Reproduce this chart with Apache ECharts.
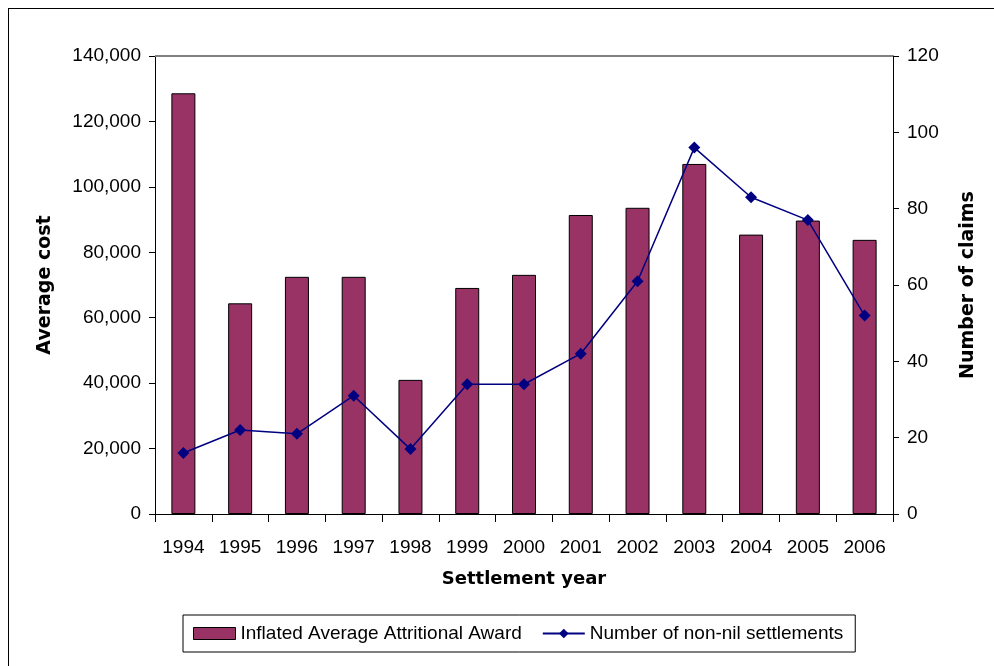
<!DOCTYPE html>
<html>
<head>
<meta charset="utf-8">
<script src="https://cdn.jsdelivr.net/npm/echarts@6/dist/echarts.min.js"></script>
<style>
html,body{margin:0;padding:0;background:#fff;overflow:hidden;}
#frame{position:absolute;left:8px;top:8px;width:1000px;height:700px;border:1px solid #000;box-sizing:border-box;}
#chart{position:absolute;left:0;top:0;width:994px;height:666px;}
</style>
</head>
<body>
<div id="frame"></div>
<div id="chart"></div>
<script>
var years = ['1994','1995','1996','1997','1998','1999','2000','2001','2002','2003','2004','2005','2006'];
var averageAward = [128600, 64400, 72500, 72500, 41000, 69100, 73100, 91400, 93600, 107000, 85400, 89700, 83800];
var settlements = [16, 22, 21, 31, 17, 34, 34, 42, 61, 96, 83, 77, 52];
var leftTicks = {min: 0, max: 140000, interval: 20000};
var rightTicks = {min: 0, max: 120, interval: 20};

var font = '"Liberation Sans", Arial, sans-serif';
var titleFont = '"DejaVu Sans", "Liberation Sans", sans-serif';
var chart = echarts.init(document.getElementById('chart'));
chart.setOption({
  animation: false,
  textStyle: {fontFamily: font},
  grid: {left: 155, right: 101, top: 56, bottom: 152},
  legend: {
    bottom: 14, left: 183,
    borderColor: '#000', borderWidth: 1, padding: [9, 12, 9, 10],
    itemGap: 20, itemWidth: 42, itemHeight: 12,
    textStyle: {fontFamily: font, fontSize: 19, color: '#000'},
    data: [
      {name: 'Inflated Average Attritional Award', icon: 'rect', itemStyle: {borderColor: '#000', borderWidth: 1}},
      {name: 'Number of non-nil settlements'}
    ]
  },
  xAxis: {
    type: 'category', data: years,
    name: 'Settlement year', nameLocation: 'middle', nameGap: 56,
    nameTextStyle: {fontSize: 18, fontWeight: 'bold', color: '#000', fontFamily: titleFont},
    axisLine: {lineStyle: {color: '#000'}},
    axisTick: {show: true, alignWithLabel: false, length: 8, lineStyle: {color: '#000'}},
    axisLabel: {fontSize: 19, color: '#000', margin: 24, interval: 0, fontFamily: font},
    splitLine: {show: false}
  },
  yAxis: [
    {
      type: 'value', min: leftTicks.min, max: leftTicks.max, interval: leftTicks.interval,
      name: 'Average cost', nameLocation: 'middle', nameGap: 100, nameRotate: 90,
      nameTextStyle: {fontSize: 19, fontWeight: 'bold', color: '#000', fontFamily: titleFont},
      axisLine: {show: true, lineStyle: {color: '#000'}},
      axisTick: {show: true, length: 6, lineStyle: {color: '#000'}},
      axisLabel: {fontSize: 19, color: '#000', margin: 14, fontFamily: font,
        formatter: function (v) { return v.toString().replace(/\B(?=(\d{3})+(?!\d))/g, ','); }},
      splitLine: {show: false}
    },
    {
      type: 'value', min: rightTicks.min, max: rightTicks.max, interval: rightTicks.interval,
      name: 'Number of claims', nameLocation: 'middle', nameGap: 66, nameRotate: 90,
      nameTextStyle: {fontSize: 19, fontWeight: 'bold', color: '#000', fontFamily: titleFont},
      axisLine: {show: true, lineStyle: {color: '#000'}},
      axisTick: {show: true, length: 6, lineStyle: {color: '#000'}},
      axisLabel: {fontSize: 19, color: '#000', margin: 14, fontFamily: font},
      splitLine: {show: false}
    }
  ],
  series: [
    {
      name: 'Inflated Average Attritional Award', type: 'bar', yAxisIndex: 0,
      data: averageAward, barWidth: 24,
      itemStyle: {color: '#993366', borderColor: '#000', borderWidth: 1},
      markLine: {
        silent: true, symbol: 'none', label: {show: false},
        lineStyle: {color: '#808080', type: 'solid', width: 2},
        data: [{yAxis: leftTicks.max}]
      }
    },
    {
      name: 'Number of non-nil settlements', type: 'line', yAxisIndex: 1,
      data: settlements, symbol: 'diamond', symbolSize: 12,
      lineStyle: {color: '#000080', width: 1.5},
      itemStyle: {color: '#000080'}
    }
  ]
});
</script>
</body>
</html>
